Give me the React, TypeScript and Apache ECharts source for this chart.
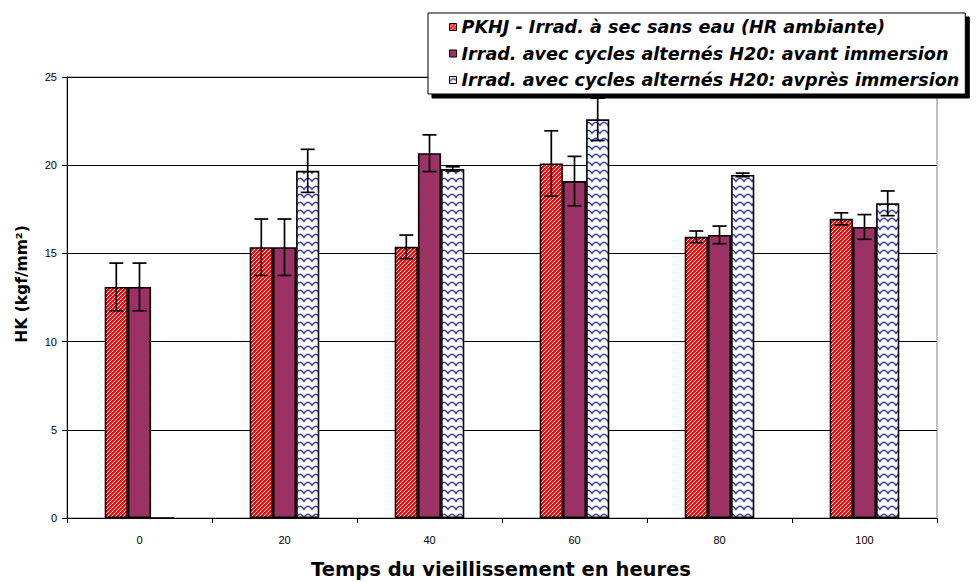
import { useEffect, useRef } from 'react';
import * as echarts from 'echarts';

const categories = ['0', '20', '40', '60', '80', '100'];
const seriesNames = [
  'PKHJ - Irrad. à sec sans eau (HR ambiante)',
  'Irrad. avec cycles alternés H20: avant immersion',
  'Irrad. avec cycles alternés H20: avprès immersion',
];
const dryValues = [13.1, 15.35, 15.37, 20.1, 15.94, 16.96];
const dryErrors = [1.35, 1.6, 0.67, 1.85, 0.33, 0.34];
const beforeValues = [13.1, 15.35, 20.68, 19.1, 16.05, 16.5];
const beforeErrors = [1.35, 1.6, 1.04, 1.4, 0.5, 0.7];
const afterValues = [0, 19.68, 19.79, 22.6, 19.45, 17.84];
const afterErrors = [0, 1.22, 0.12, 1.2, 0.1, 0.7];
const yTicks = { min: 0, max: 25, interval: 5 };
const xAxisTitle = 'Temps du vieillissement en heures';
const yAxisTitle = 'HK (kgf/mm²)';

function stripePattern() {
  const c = document.createElement('canvas');
  c.width = 8; c.height = 8;
  const g = c.getContext('2d')!;
  for (let x = 0; x < 8; x++) for (let y = 0; y < 8; y++) {
    const k = (x + y) % 4;
    g.fillStyle = k < 2 ? '#ff0000' : k === 2 ? '#ff2222' : '#ffffff';
    g.fillRect(x, y, 1, 1);
  }
  return { image: c, repeat: 'repeat', imageWidth: 8, imageHeight: 8 };
}
function dotPattern() {
  const c = document.createElement('canvas');
  c.width = 16; c.height = 16;
  const g = c.getContext('2d')!;
  g.fillStyle = '#993366'; g.fillRect(0, 0, 16, 16);
  g.fillStyle = '#ee1133';
  g.fillRect(4, 4, 2, 2);
  g.fillRect(12, 12, 2, 2);
  return { image: c, repeat: 'repeat', imageWidth: 16, imageHeight: 16 };
}
function wavePattern() {
  const c = document.createElement('canvas');
  c.width = 8; c.height = 8;
  const g = c.getContext('2d')!;
  g.fillStyle = '#ffffff'; g.fillRect(0, 0, 8, 8);
  g.strokeStyle = '#3a3aa0'; g.lineWidth = 1.5;
  g.beginPath();
  g.moveTo(-1, 7); g.quadraticCurveTo(4, -2.5, 9, 7);
  g.stroke();
  return { image: c, repeat: 'repeat', imageWidth: 8, imageHeight: 8 };
}

const CAT_GAP = 0.52;

export default function App() {
  const ref = useRef<HTMLDivElement>(null);
  useEffect(() => {
    document.body.style.margin = '0';
    const chart = echarts.init(ref.current!, null, { renderer: 'svg' });
    const patterns = [stripePattern(), dotPattern(), wavePattern()];
    const values = [dryValues, beforeValues, afterValues];
    const errors = [dryErrors, beforeErrors, afterErrors];
    const errData: number[][] = [];
    values.forEach((vals, si) => vals.forEach((v, ci) => errData.push([ci, v, errors[si][ci], si])));

    const bars = seriesNames.map((name, si) => ({
      name,
      type: 'bar',
      data: values[si],
      barGap: '0%',
      barCategoryGap: CAT_GAP * 100 + '%',
      itemStyle: { color: patterns[si] as any, borderColor: '#000', borderWidth: 1.6 },
      z: 2,
    }));

    chart.setOption({
      animation: false,
      grid: { left: 67, right: 39, top: 77, bottom: 64, show: true, borderColor: '#808080', borderWidth: 1 },
      legend: {
        data: seriesNames,
        orient: 'vertical',
        left: 428,
        top: 13,
        itemWidth: 7,
        itemHeight: 7,
        itemGap: 8.5,
        padding: [5, 6, 5, 21],
        icon: 'rect',
        backgroundColor: '#fff',
        borderColor: '#000',
        borderWidth: 1,
        shadowColor: '#000',
        shadowOffsetX: 4,
        shadowOffsetY: 4,
        shadowBlur: 0,
        z: 20,
        itemStyle: { borderColor: '#000', borderWidth: 1 },
        textStyle: { fontFamily: 'DejaVu Sans', fontWeight: 'bold', fontStyle: 'italic', fontSize: 17.6, lineHeight: 17, color: '#000' },
      },
      xAxis: {
        type: 'category',
        data: categories,
        axisLine: { lineStyle: { color: '#000', width: 1 } },
        axisTick: { show: true, length: 5, lineStyle: { color: '#000' } },
        axisLabel: { fontFamily: 'Liberation Sans', fontSize: 11, color: '#000', margin: 16 },
      },
      yAxis: {
        type: 'value',
        min: yTicks.min,
        max: yTicks.max,
        interval: yTicks.interval,
        axisLine: { show: true, lineStyle: { color: '#000', width: 1 } },
        axisTick: { show: true, length: 5, lineStyle: { color: '#000' } },
        axisLabel: { fontFamily: 'Liberation Sans', fontSize: 11, color: '#000', margin: 10 },
        splitLine: { lineStyle: { color: '#000', width: 1 } },
      },
      graphic: [
        {
          type: 'text', x: 501, y: 569, z: 10,
          style: { text: xAxisTitle, fontFamily: 'DejaVu Sans', fontWeight: 'bold', fontSize: 19.5, fill: '#000', textAlign: 'center', textVerticalAlign: 'middle' },
        },
        {
          type: 'text', x: 22, y: 284, rotation: Math.PI / 2, z: 10,
          style: { text: yAxisTitle, fontFamily: 'DejaVu Sans', fontWeight: 'bold', fontSize: 15.5, fill: '#000', textAlign: 'center', textVerticalAlign: 'middle' },
        },
      ],
      series: [
        ...bars,
        {
          type: 'custom',
          name: 'errors',
          data: errData,
          z: 5,
          silent: true,
          encode: { x: 0, y: 1 },
          renderItem: (_params: any, api: any) => {
            const ci = api.value(0), v = api.value(1), e = api.value(2), si = api.value(3);
            if (!e) return null;
            const bandW = api.size([1, 0])[0];
            const barW = (bandW * (1 - CAT_GAP)) / 3;
            const c = api.coord([ci, v]);
            const x = c[0] + (si - 1) * barW;
            const top = api.coord([ci, v + e])[1];
            const bot = api.coord([ci, v - e])[1];
            const cap = 7;
            const st = { stroke: '#000', lineWidth: 1.7 };
            return {
              type: 'group',
              children: [
                { type: 'line', shape: { x1: x, y1: top, x2: x, y2: bot }, style: st },
                { type: 'line', shape: { x1: x - cap, y1: top, x2: x + cap, y2: top }, style: st },
                { type: 'line', shape: { x1: x - cap, y1: bot, x2: x + cap, y2: bot }, style: st },
              ],
            };
          },
        },
      ],
    } as any);
    return () => chart.dispose();
  }, []);
  return <div ref={ref} style={{ width: 976, height: 582 }} />;
}
